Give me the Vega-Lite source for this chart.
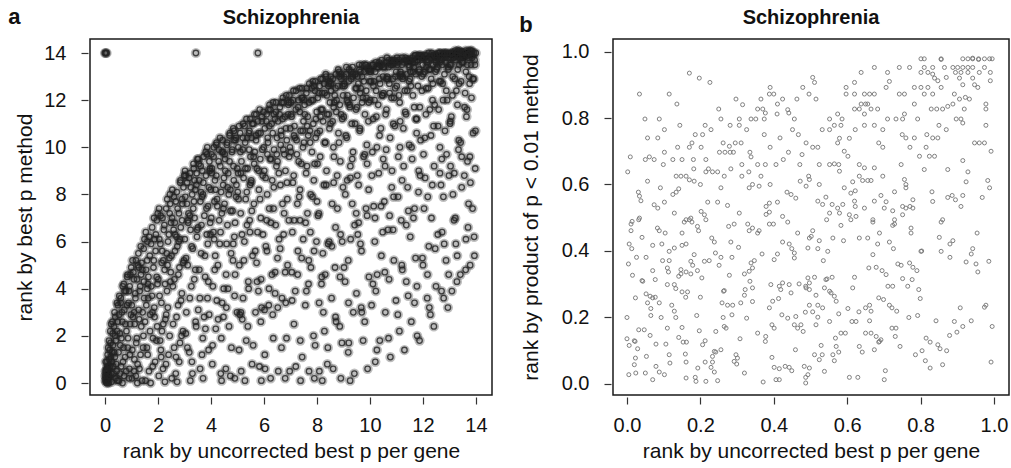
{
"$schema":"https://vega.github.io/schema/vega-lite/v6.json",
"padding":{"left":8,"top":6,"right":0,"bottom":0},
"config":{
"font":"Liberation Sans",
"view":{"stroke":"#1a1a1a","strokeWidth":1.5},
"axis":{"grid":false,"domain":false,"tickColor":"#333","tickWidth":1.2,"tickSize":7,"offset":2,"labelFontSize":20,"titleFontSize":21,"labelColor":"#111","titleColor":"#111","titleFontWeight":"normal","labelFlush":false,"labelOverlap":false},
"axisX":{"labelPadding":11,"titlePadding":5},
"axisY":{"labelPadding":15},
"title":{"fontSize":20,"fontWeight":"bold","color":"#111"},
"concat":{"spacing":26}
},
"datasets":{
"a":[
{"x":0.02,"y":0.1},{"x":0.05,"y":0.5},{"x":0.03,"y":0.9},{"x":0.08,"y":0.2},{"x":0.1,"y":1.2},{"x":0.12,"y":0.6},{"x":0.15,"y":1.8},{"x":0.17,"y":0.3},{"x":0.2,"y":2.2},{"x":0.22,"y":1.1},{"x":0.25,"y":0.05},{"x":0.28,"y":2.6},{"x":0.3,"y":1.6},{"x":0.33,"y":0.4},{"x":0.36,"y":3.0},{"x":0.38,"y":2.0},{"x":0.42,"y":0.8},{"x":0.45,"y":3.4},{"x":0.48,"y":2.6},{"x":0.47,"y":0.1},{"x":0.06,"y":0.0},{"x":0.14,"y":0.0},{"x":0.04,"y":0.3},{"x":0.09,"y":0.7},{"x":0.18,"y":1.4},{"x":0.26,"y":0.9},{"x":0.11,"y":0.05},{"x":0.35,"y":1.3},{"x":0.4,"y":0.2},
{"x":0.52,"y":0.1},{"x":0.8,"y":0.5},{"x":0.61,"y":0.7},{"x":0.94,"y":1.2},{"x":0.7,"y":1.5},{"x":0.87,"y":1.9},{"x":0.56,"y":2.1},{"x":0.77,"y":2.5},{"x":0.98,"y":2.9},{"x":0.64,"y":3.0},{"x":0.83,"y":3.3},{"x":0.59,"y":3.4},{"x":0.91,"y":3.9},{"x":0.74,"y":3.9},{"x":0.67,"y":4.1},{"x":0.96,"y":4.6},{"x":0.54,"y":3.7},{"x":0.85,"y":4.6},{"x":0.66,"y":0.0},{"x":0.9,"y":0.2},
{"x":1.02,"y":0.2},{"x":1.3,"y":0.6},{"x":1.11,"y":1.0},{"x":1.44,"y":1.5},{"x":1.2,"y":1.9},{"x":1.37,"y":2.4},{"x":1.06,"y":2.8},{"x":1.27,"y":3.1},{"x":1.48,"y":3.6},{"x":1.14,"y":3.8},{"x":1.33,"y":4.1},{"x":1.09,"y":4.4},{"x":1.41,"y":4.8},{"x":1.24,"y":5.0},{"x":1.17,"y":5.2},{"x":1.46,"y":5.7},{"x":1.04,"y":5.2},{"x":1.35,"y":5.8},{"x":1.22,"y":0.0},{"x":1.4,"y":0.1},
{"x":1.53,"y":0.1},{"x":1.8,"y":0.7},{"x":1.61,"y":1.2},{"x":1.94,"y":1.8},{"x":1.7,"y":2.2},{"x":1.87,"y":2.8},{"x":1.56,"y":3.3},{"x":1.77,"y":3.7},{"x":1.98,"y":4.2},{"x":1.64,"y":4.5},{"x":1.83,"y":4.9},{"x":1.59,"y":5.2},{"x":1.91,"y":5.6},{"x":1.74,"y":5.9},{"x":1.67,"y":6.2},{"x":1.96,"y":6.9},{"x":1.54,"y":6.4},{"x":1.85,"y":7.0},{"x":1.72,"y":0.0},
{"x":2.03,"y":0.3},{"x":2.3,"y":0.8},{"x":2.11,"y":1.4},{"x":2.44,"y":2.0},{"x":2.2,"y":2.5},{"x":2.37,"y":3.2},{"x":2.06,"y":3.7},{"x":2.27,"y":4.2},{"x":2.48,"y":4.7},{"x":2.14,"y":5.1},{"x":2.33,"y":5.5},{"x":2.09,"y":5.9},{"x":2.41,"y":6.3},{"x":2.24,"y":6.7},{"x":2.17,"y":7.0},{"x":2.46,"y":7.6},{"x":2.04,"y":7.4},{"x":2.35,"y":7.8},{"x":2.26,"y":0.05},
{"x":2.52,"y":0.2},{"x":2.8,"y":0.9},{"x":2.61,"y":1.5},{"x":2.94,"y":2.2},{"x":2.7,"y":2.8},{"x":2.87,"y":3.5},{"x":2.56,"y":4.1},{"x":2.77,"y":4.6},{"x":2.98,"y":5.2},{"x":2.64,"y":5.6},{"x":2.83,"y":6.1},{"x":2.59,"y":6.5},{"x":2.91,"y":6.9},{"x":2.74,"y":7.4},{"x":2.67,"y":7.7},{"x":2.96,"y":8.3},{"x":2.54,"y":8.2},{"x":2.85,"y":8.6},{"x":2.72,"y":0.05},
{"x":3.3,"y":0.4},{"x":3.11,"y":1.5},{"x":3.44,"y":2.4},{"x":3.2,"y":3.6},{"x":3.37,"y":4.4},{"x":3.06,"y":5.3},{"x":3.27,"y":5.8},{"x":3.48,"y":6.5},{"x":3.14,"y":6.8},{"x":3.33,"y":7.4},{"x":3.09,"y":7.6},{"x":3.41,"y":8.2},{"x":3.24,"y":8.3},{"x":3.17,"y":8.7},{"x":3.46,"y":8.9},{"x":3.04,"y":8.8},{"x":3.35,"y":9.1},{"x":3.02,"y":9.0},{"x":3.22,"y":0.1},
{"x":3.59,"y":0.6},{"x":3.91,"y":1.4},{"x":3.74,"y":2.8},{"x":3.87,"y":3.6},{"x":3.56,"y":4.8},{"x":3.77,"y":5.4},{"x":3.98,"y":6.3},{"x":3.64,"y":6.7},{"x":3.83,"y":7.4},{"x":3.6,"y":7.7},{"x":3.92,"y":8.3},{"x":3.71,"y":8.5},{"x":3.67,"y":9.0},{"x":3.96,"y":9.1},{"x":3.54,"y":9.3},{"x":3.85,"y":9.7},{"x":3.52,"y":9.5},{"x":3.8,"y":9.8},{"x":3.7,"y":0.2},
{"x":4.37,"y":0.4},{"x":4.06,"y":1.6},{"x":4.27,"y":2.7},{"x":4.48,"y":4.0},{"x":4.14,"y":4.8},{"x":4.33,"y":5.9},{"x":4.09,"y":6.4},{"x":4.41,"y":7.2},{"x":4.24,"y":7.5},{"x":4.17,"y":8.2},{"x":4.46,"y":8.4},{"x":4.04,"y":9.1},{"x":4.35,"y":9.2},{"x":4.02,"y":9.7},{"x":4.3,"y":9.9},{"x":4.11,"y":10.0},{"x":4.44,"y":10.3},{"x":4.2,"y":10.1},{"x":4.4,"y":0.1},
{"x":4.56,"y":0.6},{"x":4.77,"y":1.5},{"x":4.98,"y":3.0},{"x":4.64,"y":4.0},{"x":4.83,"y":5.2},{"x":4.59,"y":5.9},{"x":4.91,"y":6.8},{"x":4.74,"y":7.3},{"x":4.67,"y":8.0},{"x":4.96,"y":8.4},{"x":4.54,"y":9.0},{"x":4.85,"y":9.2},{"x":4.52,"y":9.7},{"x":4.8,"y":9.9},{"x":4.61,"y":10.2},{"x":4.94,"y":10.4},{"x":4.7,"y":10.5},{"x":4.87,"y":10.7},{"x":4.9,"y":0.2},
{"x":5.14,"y":0.5},{"x":5.33,"y":1.8},{"x":5.09,"y":2.9},{"x":5.41,"y":4.3},{"x":5.24,"y":5.2},{"x":5.17,"y":6.3},{"x":5.46,"y":6.9},{"x":5.04,"y":7.8},{"x":5.35,"y":8.1},{"x":5.02,"y":8.9},{"x":5.3,"y":9.1},{"x":5.11,"y":9.8},{"x":5.44,"y":9.9},{"x":5.2,"y":10.4},{"x":5.37,"y":10.4},{"x":5.06,"y":10.9},{"x":5.27,"y":10.9},{"x":5.48,"y":11.2},{"x":5.28,"y":0.1},
{"x":5.83,"y":0.7},{"x":5.59,"y":1.6},{"x":5.91,"y":3.2},{"x":5.74,"y":4.3},{"x":5.67,"y":5.6},{"x":5.96,"y":6.3},{"x":5.54,"y":7.3},{"x":5.85,"y":7.8},{"x":5.52,"y":8.6},{"x":5.8,"y":9.0},{"x":5.61,"y":9.6},{"x":5.94,"y":9.9},{"x":5.7,"y":10.5},{"x":5.87,"y":10.6},{"x":5.56,"y":11.0},{"x":5.77,"y":11.1},{"x":5.98,"y":11.5},{"x":5.64,"y":11.4},{"x":5.9,"y":0.1},
{"x":6.04,"y":0.6},{"x":6.35,"y":1.9},{"x":6.02,"y":3.1},{"x":6.3,"y":4.6},{"x":6.11,"y":5.6},{"x":6.44,"y":6.7},{"x":6.2,"y":7.4},{"x":6.37,"y":8.3},{"x":6.06,"y":8.7},{"x":6.27,"y":9.5},{"x":6.48,"y":9.7},{"x":6.14,"y":10.4},{"x":6.33,"y":10.6},{"x":6.09,"y":11.1},{"x":6.41,"y":11.2},{"x":6.24,"y":11.6},{"x":6.17,"y":11.6},{"x":6.46,"y":11.9},{"x":6.25,"y":0.2},
{"x":6.54,"y":0.5},{"x":6.85,"y":1.9},{"x":6.52,"y":3.2},{"x":6.8,"y":4.7},{"x":6.61,"y":5.7},{"x":6.94,"y":6.9},{"x":6.7,"y":7.6},{"x":6.87,"y":8.5},{"x":6.56,"y":8.9},{"x":6.77,"y":9.7},{"x":6.98,"y":10.0},{"x":6.64,"y":10.7},{"x":6.83,"y":10.8},{"x":6.59,"y":11.4},{"x":6.91,"y":11.4},{"x":6.74,"y":11.9},{"x":6.67,"y":11.9},{"x":6.96,"y":12.2},{"x":6.8,"y":0.2},
{"x":7.2,"y":0.7},{"x":7.37,"y":1.8},{"x":7.06,"y":3.5},{"x":7.27,"y":4.6},{"x":7.48,"y":6.1},{"x":7.14,"y":6.9},{"x":7.33,"y":7.9},{"x":7.09,"y":8.5},{"x":7.41,"y":9.3},{"x":7.24,"y":9.7},{"x":7.17,"y":10.4},{"x":7.46,"y":10.7},{"x":7.04,"y":11.3},{"x":7.35,"y":11.5},{"x":7.02,"y":11.9},{"x":7.3,"y":12.0},{"x":7.11,"y":12.4},{"x":7.44,"y":12.5},{"x":7.38,"y":0.1},
{"x":7.7,"y":0.5},{"x":7.87,"y":2.0},{"x":7.56,"y":3.3},{"x":7.77,"y":4.9},{"x":7.98,"y":6.0},{"x":7.64,"y":7.2},{"x":7.83,"y":7.9},{"x":7.59,"y":8.9},{"x":7.91,"y":9.3},{"x":7.74,"y":10.2},{"x":7.67,"y":10.5},{"x":7.96,"y":11.2},{"x":7.54,"y":11.4},{"x":7.85,"y":12.0},{"x":7.52,"y":12.0},{"x":7.8,"y":12.5},{"x":7.61,"y":12.5},{"x":7.94,"y":12.8},{"x":7.9,"y":0.2},
{"x":8.09,"y":0.5},{"x":8.41,"y":1.5},{"x":8.24,"y":3.0},{"x":8.17,"y":4.2},{"x":8.46,"y":6.0},{"x":8.04,"y":7.1},{"x":8.35,"y":8.4},{"x":8.02,"y":9.3},{"x":8.3,"y":10.2},{"x":8.11,"y":10.7},{"x":8.44,"y":11.4},{"x":8.2,"y":11.6},{"x":8.37,"y":12.2},{"x":8.06,"y":12.3},{"x":8.27,"y":12.7},{"x":8.48,"y":12.8},{"x":8.14,"y":12.9},{"x":8.33,"y":13.1},{"x":8.2,"y":0.1},
{"x":8.61,"y":0.6},{"x":8.94,"y":1.7},{"x":8.7,"y":2.8},{"x":8.87,"y":4.5},{"x":8.56,"y":5.8},{"x":8.77,"y":7.4},{"x":8.98,"y":8.3},{"x":8.64,"y":9.6},{"x":8.83,"y":10.2},{"x":8.59,"y":11.1},{"x":8.91,"y":11.4},{"x":8.74,"y":12.0},{"x":8.67,"y":12.2},{"x":8.96,"y":12.6},{"x":8.54,"y":12.7},{"x":8.85,"y":13.0},{"x":8.52,"y":13.0},{"x":8.8,"y":13.3},{"x":8.9,"y":0.2},
{"x":9.41,"y":0.4},{"x":9.2,"y":1.7},{"x":9.37,"y":3.0},{"x":9.06,"y":4.3},{"x":9.27,"y":6.1},{"x":9.48,"y":7.2},{"x":9.14,"y":8.6},{"x":9.33,"y":9.5},{"x":9.09,"y":10.5},{"x":9.44,"y":11.0},{"x":9.24,"y":11.7},{"x":9.17,"y":11.9},{"x":9.46,"y":12.5},{"x":9.04,"y":12.6},{"x":9.35,"y":13.0},{"x":9.02,"y":13.0},{"x":9.3,"y":13.2},{"x":9.11,"y":13.4},{"x":9.25,"y":0.1},
{"x":9.91,"y":0.6},{"x":9.74,"y":1.8},{"x":9.67,"y":3.2},{"x":9.96,"y":4.5},{"x":9.54,"y":6.3},{"x":9.85,"y":7.4},{"x":9.52,"y":8.8},{"x":9.8,"y":9.7},{"x":9.61,"y":10.7},{"x":9.94,"y":11.1},{"x":9.7,"y":11.9},{"x":9.87,"y":12.1},{"x":9.56,"y":12.7},{"x":9.77,"y":12.8},{"x":9.98,"y":13.2},{"x":9.64,"y":13.2},{"x":9.83,"y":13.5},{"x":9.59,"y":13.5},
{"x":10.2,"y":0.9},{"x":10.37,"y":1.8},{"x":10.06,"y":3.3},{"x":10.27,"y":4.6},{"x":10.48,"y":6.4},{"x":10.14,"y":7.5},{"x":10.33,"y":8.9},{"x":10.09,"y":9.8},{"x":10.41,"y":10.8},{"x":10.24,"y":11.3},{"x":10.17,"y":12.0},{"x":10.46,"y":12.2},{"x":10.04,"y":12.8},{"x":10.35,"y":12.9},{"x":10.02,"y":13.3},{"x":10.3,"y":13.4},{"x":10.11,"y":13.5},{"x":10.44,"y":13.7},
{"x":10.77,"y":1.1},{"x":10.7,"y":1.9},{"x":10.98,"y":3.5},{"x":10.56,"y":4.7},{"x":10.87,"y":6.5},{"x":10.54,"y":7.7},{"x":10.83,"y":9.0},{"x":10.61,"y":9.9},{"x":10.94,"y":10.9},{"x":10.59,"y":11.4},{"x":10.91,"y":12.1},{"x":10.74,"y":12.3},{"x":10.67,"y":12.9},{"x":10.96,"y":13.0},{"x":10.52,"y":13.4},{"x":10.85,"y":13.5},{"x":10.8,"y":13.6},{"x":10.64,"y":13.8},
{"x":11.3,"y":1.4},{"x":11.11,"y":2.2},{"x":11.44,"y":3.7},{"x":11.2,"y":5.0},{"x":11.37,"y":6.7},{"x":11.06,"y":7.9},{"x":11.27,"y":9.2},{"x":11.48,"y":10.1},{"x":11.14,"y":11.1},{"x":11.33,"y":11.5},{"x":11.09,"y":12.2},{"x":11.41,"y":12.4},{"x":11.24,"y":13.0},{"x":11.17,"y":13.1},{"x":11.46,"y":13.5},{"x":11.04,"y":13.6},{"x":11.35,"y":13.7},{"x":11.02,"y":13.8},
{"x":11.87,"y":1.8},{"x":11.56,"y":2.6},{"x":11.77,"y":4.1},{"x":11.98,"y":5.3},{"x":11.64,"y":7.0},{"x":11.83,"y":8.1},{"x":11.59,"y":9.5},{"x":11.91,"y":10.3},{"x":11.74,"y":11.2},{"x":11.67,"y":11.7},{"x":11.96,"y":12.4},{"x":11.54,"y":12.6},{"x":11.85,"y":13.2},{"x":11.52,"y":13.2},{"x":11.8,"y":13.7},{"x":11.61,"y":13.6},{"x":11.94,"y":13.9},{"x":11.7,"y":13.9},
{"x":12.41,"y":2.4},{"x":12.24,"y":3.2},{"x":12.17,"y":4.6},{"x":12.46,"y":5.7},{"x":12.04,"y":7.4},{"x":12.35,"y":8.4},{"x":12.02,"y":9.7},{"x":12.3,"y":10.5},{"x":12.11,"y":11.4},{"x":12.44,"y":11.8},{"x":12.2,"y":12.5},{"x":12.37,"y":12.7},{"x":12.06,"y":13.2},{"x":12.27,"y":13.3},{"x":12.48,"y":13.7},{"x":12.14,"y":13.7},{"x":12.33,"y":14.0},{"x":12.09,"y":13.9},
{"x":12.94,"y":3.2},{"x":12.7,"y":3.9},{"x":12.87,"y":5.2},{"x":12.56,"y":6.3},{"x":12.77,"y":7.9},{"x":12.98,"y":8.8},{"x":12.64,"y":10.0},{"x":12.83,"y":10.7},{"x":12.59,"y":11.6},{"x":12.91,"y":12.0},{"x":12.74,"y":12.7},{"x":12.67,"y":12.8},{"x":12.96,"y":13.3},{"x":12.54,"y":13.4},{"x":12.85,"y":13.8},{"x":12.52,"y":13.8},{"x":12.8,"y":14.0},{"x":12.61,"y":14.0},
{"x":13.09,"y":3.9},{"x":13.41,"y":4.6},{"x":13.24,"y":5.9},{"x":13.17,"y":6.9},{"x":13.46,"y":8.3},{"x":13.04,"y":9.2},{"x":13.35,"y":10.3},{"x":13.02,"y":11.0},{"x":13.3,"y":11.8},{"x":13.11,"y":12.2},{"x":13.44,"y":12.8},{"x":13.2,"y":12.9},{"x":13.37,"y":13.5},{"x":13.06,"y":13.5},{"x":13.27,"y":13.9},{"x":13.48,"y":13.8},{"x":13.14,"y":14.0},{"x":13.33,"y":14.1},
{"x":13.61,"y":4.8},{"x":13.94,"y":5.4},{"x":13.7,"y":6.6},{"x":13.87,"y":7.4},{"x":13.56,"y":8.8},{"x":13.77,"y":9.6},{"x":13.98,"y":10.7},{"x":13.64,"y":11.3},{"x":13.83,"y":12.1},{"x":13.59,"y":12.3},{"x":13.91,"y":12.9},{"x":13.74,"y":13.0},{"x":13.67,"y":13.5},{"x":13.96,"y":13.5},{"x":13.54,"y":13.9},{"x":13.85,"y":13.8},{"x":13.52,"y":14.0},{"x":13.8,"y":14.1},
{"x":0.0,"y":14.0},{"x":0.03,"y":14.0},{"x":0.06,"y":14.0},{"x":3.43,"y":14.0},{"x":5.77,"y":14.0},
{"x":0.01,"y":0.3},{"x":0.04,"y":0.1},{"x":0.07,"y":0.6},{"x":0.13,"y":0.3},{"x":0.16,"y":1.0},{"x":0.19,"y":0.7},{"x":0.21,"y":1.7},{"x":0.24,"y":0.4},{"x":0.27,"y":1.3},{"x":0.29,"y":2.1},{"x":0.31,"y":0.7},{"x":0.34,"y":2.4},{"x":0.37,"y":1.1},{"x":0.39,"y":2.8},{"x":0.41,"y":1.8},{"x":0.44,"y":0.5},{"x":0.46,"y":2.2},{"x":0.49,"y":3.3},{"x":0.12,"y":1.5},{"x":0.23,"y":2.5},{"x":0.02,"y":0.5},{"x":0.08,"y":0.9},
{"x":0.51,"y":1.3},{"x":0.53,"y":2.9},{"x":0.57,"y":0.4},{"x":0.6,"y":3.6},{"x":0.62,"y":1.9},{"x":0.65,"y":2.6},{"x":0.68,"y":0.9},{"x":0.71,"y":4.2},{"x":0.73,"y":3.1},{"x":0.76,"y":1.1},{"x":0.79,"y":3.9},{"x":0.81,"y":2.2},{"x":0.84,"y":4.5},{"x":0.86,"y":1.5},{"x":0.89,"y":3.4},{"x":0.92,"y":0.6},{"x":0.95,"y":2.5},{"x":0.99,"y":4.9},{"x":0.58,"y":1.6},{"x":0.72,"y":0.3},
{"x":1.01,"y":3.3},{"x":1.03,"y":1.4},{"x":1.07,"y":4.7},{"x":1.1,"y":0.5},{"x":1.12,"y":2.5},{"x":1.15,"y":3.6},{"x":1.18,"y":1.7},{"x":1.21,"y":4.4},{"x":1.23,"y":0.8},{"x":1.26,"y":5.5},{"x":1.29,"y":2.7},{"x":1.31,"y":3.9},{"x":1.34,"y":1.2},{"x":1.38,"y":5.1},{"x":1.42,"y":3.0},{"x":1.45,"y":2.0},{"x":1.47,"y":4.3},{"x":1.49,"y":6.1},{"x":1.16,"y":0.3},{"x":1.36,"y":4.6},
{"x":1.51,"y":2.6},{"x":1.55,"y":4.8},{"x":1.58,"y":1.5},{"x":1.6,"y":6.0},{"x":1.63,"y":3.6},{"x":1.66,"y":0.5},{"x":1.69,"y":5.4},{"x":1.71,"y":2.9},{"x":1.75,"y":4.1},{"x":1.78,"y":6.6},{"x":1.81,"y":1.9},{"x":1.84,"y":5.2},{"x":1.86,"y":3.2},{"x":1.89,"y":0.9},{"x":1.92,"y":6.3},{"x":1.95,"y":4.5},{"x":1.97,"y":2.4},{"x":1.99,"y":7.2},{"x":1.62,"y":4.2},{"x":1.79,"y":3.0},
{"x":2.01,"y":4.4},{"x":2.05,"y":6.1},{"x":2.08,"y":1.8},{"x":2.1,"y":7.1},{"x":2.13,"y":3.4},{"x":2.16,"y":5.6},{"x":2.19,"y":0.6},{"x":2.22,"y":6.5},{"x":2.25,"y":4.8},{"x":2.28,"y":2.7},{"x":2.31,"y":7.4},{"x":2.34,"y":3.9},{"x":2.38,"y":6.0},{"x":2.4,"y":1.2},{"x":2.43,"y":5.3},{"x":2.45,"y":8.0},{"x":2.47,"y":4.3},{"x":2.49,"y":6.8},{"x":2.15,"y":2.2},{"x":2.36,"y":5.0},
{"x":2.51,"y":5.4},{"x":2.53,"y":7.0},{"x":2.57,"y":2.5},{"x":2.6,"y":7.9},{"x":2.62,"y":4.4},{"x":2.65,"y":6.3},{"x":2.68,"y":1.1},{"x":2.71,"y":8.1},{"x":2.73,"y":5.8},{"x":2.76,"y":3.3},{"x":2.79,"y":7.2},{"x":2.81,"y":4.9},{"x":2.84,"y":8.5},{"x":2.86,"y":6.6},{"x":2.89,"y":2.0},{"x":2.92,"y":7.6},{"x":2.95,"y":5.1},{"x":2.99,"y":8.8},{"x":2.63,"y":6.8},{"x":2.78,"y":6.0},
{"x":3.01,"y":6.1},{"x":3.03,"y":7.9},{"x":3.07,"y":3.0},{"x":3.1,"y":8.5},{"x":3.12,"y":5.0},{"x":3.15,"y":7.2},{"x":3.18,"y":1.3},{"x":3.21,"y":8.9},{"x":3.23,"y":6.5},{"x":3.26,"y":4.1},{"x":3.29,"y":8.0},{"x":3.31,"y":5.7},{"x":3.34,"y":9.3},{"x":3.38,"y":7.0},{"x":3.42,"y":2.6},{"x":3.45,"y":8.4},{"x":3.47,"y":6.2},{"x":3.49,"y":9.5},{"x":3.13,"y":6.9},{"x":3.36,"y":7.7},
{"x":3.51,"y":6.6},{"x":3.55,"y":8.6},{"x":3.58,"y":3.6},{"x":3.61,"y":9.2},{"x":3.63,"y":5.5},{"x":3.66,"y":7.9},{"x":3.69,"y":1.9},{"x":3.72,"y":9.6},{"x":3.75,"y":7.1},{"x":3.78,"y":4.5},{"x":3.81,"y":8.8},{"x":3.84,"y":6.3},{"x":3.86,"y":10.0},{"x":3.89,"y":7.5},{"x":3.93,"y":2.9},{"x":3.95,"y":9.0},{"x":3.97,"y":6.8},{"x":3.99,"y":8.2},{"x":3.62,"y":8.1},{"x":3.88,"y":5.9},
{"x":4.01,"y":7.0},{"x":4.03,"y":8.9},{"x":4.07,"y":4.1},{"x":4.1,"y":9.6},{"x":4.12,"y":6.1},{"x":4.15,"y":8.6},{"x":4.18,"y":2.3},{"x":4.21,"y":10.2},{"x":4.23,"y":7.8},{"x":4.26,"y":5.0},{"x":4.29,"y":9.4},{"x":4.31,"y":6.9},{"x":4.34,"y":10.4},{"x":4.38,"y":8.1},{"x":4.42,"y":3.4},{"x":4.45,"y":9.8},{"x":4.47,"y":7.4},{"x":4.49,"y":8.7},{"x":4.13,"y":7.7},{"x":4.36,"y":6.4},
{"x":4.51,"y":7.6},{"x":4.53,"y":9.5},{"x":4.57,"y":4.6},{"x":4.6,"y":10.1},{"x":4.62,"y":6.7},{"x":4.65,"y":8.9},{"x":4.68,"y":2.4},{"x":4.71,"y":10.6},{"x":4.73,"y":8.2},{"x":4.76,"y":5.5},{"x":4.79,"y":9.8},{"x":4.81,"y":7.3},{"x":4.84,"y":10.8},{"x":4.86,"y":8.6},{"x":4.89,"y":3.7},{"x":4.92,"y":10.3},{"x":4.95,"y":7.9},{"x":4.99,"y":9.1},{"x":4.63,"y":8.3},{"x":4.88,"y":6.2},
{"x":5.01,"y":8.1},{"x":5.03,"y":10.0},{"x":5.07,"y":5.0},{"x":5.1,"y":10.6},{"x":5.12,"y":7.2},{"x":5.15,"y":9.4},{"x":5.18,"y":2.7},{"x":5.21,"y":11.0},{"x":5.23,"y":8.7},{"x":5.26,"y":6.0},{"x":5.29,"y":10.2},{"x":5.31,"y":7.8},{"x":5.34,"y":11.2},{"x":5.38,"y":9.1},{"x":5.42,"y":4.0},{"x":5.45,"y":10.7},{"x":5.47,"y":8.4},{"x":5.49,"y":9.6},{"x":5.13,"y":8.9},{"x":5.36,"y":6.7},
{"x":5.51,"y":8.5},{"x":5.53,"y":10.4},{"x":5.57,"y":5.4},{"x":5.6,"y":11.0},{"x":5.62,"y":7.6},{"x":5.65,"y":9.8},{"x":5.68,"y":3.0},{"x":5.71,"y":11.4},{"x":5.73,"y":9.1},{"x":5.76,"y":6.4},{"x":5.79,"y":10.6},{"x":5.81,"y":8.2},{"x":5.84,"y":11.6},{"x":5.86,"y":9.5},{"x":5.89,"y":4.4},{"x":5.92,"y":11.1},{"x":5.95,"y":8.8},{"x":5.99,"y":10.0},{"x":5.63,"y":9.3},{"x":5.88,"y":7.0},
{"x":6.01,"y":9.0},{"x":6.03,"y":10.8},{"x":6.07,"y":5.8},{"x":6.1,"y":11.4},{"x":6.12,"y":8.0},{"x":6.15,"y":10.2},{"x":6.18,"y":3.3},{"x":6.21,"y":11.8},{"x":6.23,"y":9.5},{"x":6.26,"y":6.8},{"x":6.29,"y":11.0},{"x":6.31,"y":8.6},{"x":6.34,"y":11.9},{"x":6.38,"y":9.9},{"x":6.42,"y":4.7},{"x":6.45,"y":11.5},{"x":6.47,"y":9.2},{"x":6.49,"y":10.4},{"x":6.13,"y":9.7},{"x":6.36,"y":7.4},
{"x":6.51,"y":9.4},{"x":6.53,"y":11.1},{"x":6.57,"y":6.1},{"x":6.6,"y":11.7},{"x":6.62,"y":8.4},{"x":6.65,"y":10.5},{"x":6.68,"y":3.6},{"x":6.71,"y":12.1},{"x":6.73,"y":9.9},{"x":6.76,"y":7.2},{"x":6.79,"y":11.3},{"x":6.81,"y":9.0},{"x":6.84,"y":12.2},{"x":6.86,"y":10.3},{"x":6.89,"y":5.0},{"x":6.92,"y":11.8},{"x":6.95,"y":9.6},{"x":6.99,"y":10.8},{"x":6.63,"y":10.1},{"x":6.88,"y":7.8},
{"x":7.01,"y":9.8},{"x":7.03,"y":11.4},{"x":7.07,"y":6.4},{"x":7.1,"y":12.0},{"x":7.12,"y":8.8},{"x":7.15,"y":10.9},{"x":7.18,"y":3.9},{"x":7.21,"y":12.4},{"x":7.23,"y":10.3},{"x":7.26,"y":7.6},{"x":7.29,"y":11.7},{"x":7.31,"y":9.4},{"x":7.34,"y":12.5},{"x":7.38,"y":10.7},{"x":7.42,"y":5.3},{"x":7.45,"y":12.1},{"x":7.47,"y":10.0},{"x":7.49,"y":11.1},{"x":7.13,"y":10.5},{"x":7.36,"y":8.2},
{"x":7.51,"y":10.2},{"x":7.53,"y":11.8},{"x":7.57,"y":6.8},{"x":7.6,"y":12.3},{"x":7.62,"y":9.2},{"x":7.65,"y":11.3},{"x":7.68,"y":4.2},{"x":7.71,"y":12.7},{"x":7.73,"y":10.7},{"x":7.76,"y":8.0},{"x":7.79,"y":12.0},{"x":7.81,"y":9.8},{"x":7.84,"y":12.8},{"x":7.86,"y":11.0},{"x":7.89,"y":5.6},{"x":7.92,"y":12.4},{"x":7.95,"y":10.4},{"x":7.99,"y":11.5},{"x":7.63,"y":10.9},{"x":7.88,"y":8.6},
{"x":8.01,"y":10.6},{"x":8.03,"y":12.1},{"x":8.07,"y":7.2},{"x":8.1,"y":12.6},{"x":8.12,"y":9.6},{"x":8.15,"y":11.6},{"x":8.18,"y":4.5},{"x":8.21,"y":12.9},{"x":8.23,"y":11.1},{"x":8.26,"y":8.4},{"x":8.29,"y":12.3},{"x":8.31,"y":10.2},{"x":8.34,"y":13.0},{"x":8.38,"y":11.4},{"x":8.42,"y":5.9},{"x":8.45,"y":12.7},{"x":8.47,"y":10.8},{"x":8.49,"y":11.9},{"x":8.13,"y":11.3},{"x":8.36,"y":9.0},{"x":8.28,"y":2.2},
{"x":8.51,"y":11.0},{"x":8.53,"y":12.4},{"x":8.57,"y":7.6},{"x":8.6,"y":12.9},{"x":8.62,"y":10.0},{"x":8.65,"y":11.9},{"x":8.68,"y":4.9},{"x":8.71,"y":13.1},{"x":8.73,"y":11.5},{"x":8.76,"y":8.8},{"x":8.79,"y":12.6},{"x":8.81,"y":10.6},{"x":8.84,"y":13.2},{"x":8.86,"y":11.8},{"x":8.89,"y":6.3},{"x":8.92,"y":12.9},{"x":8.95,"y":11.2},{"x":8.99,"y":12.2},{"x":8.63,"y":11.7},{"x":8.88,"y":9.4},{"x":8.72,"y":2.6},
{"x":9.01,"y":11.3},{"x":9.03,"y":12.7},{"x":9.07,"y":8.0},{"x":9.1,"y":13.1},{"x":9.12,"y":10.4},{"x":9.15,"y":12.2},{"x":9.18,"y":5.2},{"x":9.21,"y":13.3},{"x":9.23,"y":11.8},{"x":9.26,"y":9.2},{"x":9.29,"y":12.9},{"x":9.31,"y":11.0},{"x":9.34,"y":13.4},{"x":9.38,"y":12.1},{"x":9.42,"y":6.7},{"x":9.45,"y":13.1},{"x":9.47,"y":11.6},{"x":9.49,"y":12.5},{"x":9.13,"y":12.0},{"x":9.36,"y":9.8},{"x":9.19,"y":3.4},
{"x":9.51,"y":11.7},{"x":9.53,"y":13.0},{"x":9.57,"y":8.4},{"x":9.6,"y":13.3},{"x":9.62,"y":10.8},{"x":9.65,"y":12.5},{"x":9.68,"y":5.6},{"x":9.71,"y":13.5},{"x":9.73,"y":12.1},{"x":9.76,"y":9.6},{"x":9.79,"y":13.2},{"x":9.81,"y":11.4},{"x":9.84,"y":13.5},{"x":9.86,"y":12.4},{"x":9.89,"y":7.1},{"x":9.92,"y":13.3},{"x":9.95,"y":11.9},{"x":9.99,"y":12.8},{"x":9.63,"y":12.3},{"x":9.88,"y":10.1},{"x":9.69,"y":3.0},
{"x":10.01,"y":12.0},{"x":10.03,"y":13.2},{"x":10.07,"y":8.8},{"x":10.1,"y":13.5},{"x":10.12,"y":11.2},{"x":10.15,"y":12.8},{"x":10.18,"y":6.0},{"x":10.21,"y":13.6},{"x":10.23,"y":12.4},{"x":10.26,"y":10.0},{"x":10.29,"y":13.4},{"x":10.31,"y":11.8},{"x":10.34,"y":13.6},{"x":10.38,"y":12.7},{"x":10.42,"y":7.5},{"x":10.45,"y":13.5},{"x":10.47,"y":12.2},{"x":10.49,"y":13.0},{"x":10.13,"y":12.6},{"x":10.36,"y":10.5},{"x":10.22,"y":3.9},
{"x":10.51,"y":12.3},{"x":10.53,"y":13.4},{"x":10.57,"y":9.2},{"x":10.6,"y":13.6},{"x":10.62,"y":11.6},{"x":10.65,"y":13.0},{"x":10.68,"y":6.5},{"x":10.71,"y":13.7},{"x":10.73,"y":12.7},{"x":10.76,"y":10.4},{"x":10.79,"y":13.5},{"x":10.81,"y":12.1},{"x":10.84,"y":13.7},{"x":10.86,"y":12.9},{"x":10.89,"y":7.9},{"x":10.92,"y":13.6},{"x":10.95,"y":12.5},{"x":10.99,"y":13.2},{"x":10.63,"y":12.9},{"x":10.88,"y":11.0},{"x":10.72,"y":4.4},
{"x":11.01,"y":12.6},{"x":11.03,"y":13.5},{"x":11.07,"y":9.6},{"x":11.1,"y":13.7},{"x":11.12,"y":11.9},{"x":11.15,"y":13.2},{"x":11.18,"y":6.9},{"x":11.21,"y":13.8},{"x":11.23,"y":12.9},{"x":11.26,"y":10.8},{"x":11.29,"y":13.6},{"x":11.31,"y":12.4},{"x":11.34,"y":13.8},{"x":11.38,"y":13.1},{"x":11.42,"y":8.3},{"x":11.45,"y":13.7},{"x":11.47,"y":12.8},{"x":11.49,"y":13.4},{"x":11.13,"y":13.0},{"x":11.36,"y":11.4},{"x":11.22,"y":4.8},
{"x":11.51,"y":12.9},{"x":11.53,"y":13.7},{"x":11.57,"y":10.0},{"x":11.6,"y":13.8},{"x":11.62,"y":12.2},{"x":11.65,"y":13.4},{"x":11.68,"y":7.4},{"x":11.71,"y":13.9},{"x":11.73,"y":13.1},{"x":11.76,"y":11.2},{"x":11.79,"y":13.7},{"x":11.81,"y":12.6},{"x":11.84,"y":13.9},{"x":11.86,"y":13.3},{"x":11.89,"y":8.8},{"x":11.92,"y":13.8},{"x":11.95,"y":13.0},{"x":11.99,"y":13.5},{"x":11.63,"y":13.2},{"x":11.88,"y":11.7},{"x":11.72,"y":5.3},{"x":11.78,"y":2.0},
{"x":12.01,"y":13.1},{"x":12.03,"y":13.8},{"x":12.07,"y":10.4},{"x":12.1,"y":13.9},{"x":12.12,"y":12.5},{"x":12.15,"y":13.6},{"x":12.18,"y":7.9},{"x":12.21,"y":14.0},{"x":12.23,"y":13.3},{"x":12.26,"y":11.6},{"x":12.29,"y":13.8},{"x":12.31,"y":12.9},{"x":12.34,"y":13.9},{"x":12.38,"y":13.5},{"x":12.42,"y":9.2},{"x":12.45,"y":13.9},{"x":12.47,"y":13.2},{"x":12.49,"y":13.6},{"x":12.13,"y":13.4},{"x":12.36,"y":12.0},{"x":12.22,"y":5.8},{"x":12.28,"y":2.9},
{"x":12.51,"y":13.3},{"x":12.53,"y":13.9},{"x":12.57,"y":10.9},{"x":12.6,"y":14.0},{"x":12.62,"y":12.8},{"x":12.65,"y":13.7},{"x":12.68,"y":8.4},{"x":12.71,"y":14.0},{"x":12.73,"y":13.5},{"x":12.76,"y":12.0},{"x":12.79,"y":13.9},{"x":12.81,"y":13.1},{"x":12.84,"y":14.0},{"x":12.86,"y":13.6},{"x":12.89,"y":9.7},{"x":12.92,"y":13.9},{"x":12.95,"y":13.4},{"x":12.99,"y":13.8},{"x":12.63,"y":13.6},{"x":12.88,"y":12.4},{"x":12.72,"y":6.4},{"x":12.78,"y":3.6},
{"x":13.01,"y":13.5},{"x":13.03,"y":14.0},{"x":13.07,"y":11.3},{"x":13.1,"y":14.0},{"x":13.12,"y":13.0},{"x":13.15,"y":13.8},{"x":13.18,"y":8.9},{"x":13.21,"y":14.1},{"x":13.23,"y":13.7},{"x":13.26,"y":12.4},{"x":13.29,"y":14.0},{"x":13.31,"y":13.3},{"x":13.34,"y":14.1},{"x":13.38,"y":13.8},{"x":13.42,"y":10.2},{"x":13.45,"y":14.0},{"x":13.47,"y":13.6},{"x":13.49,"y":13.9},{"x":13.13,"y":13.8},{"x":13.36,"y":12.7},{"x":13.22,"y":7.0},{"x":13.28,"y":4.3},
{"x":13.51,"y":13.6},{"x":13.53,"y":14.0},{"x":13.57,"y":11.7},{"x":13.6,"y":14.1},{"x":13.62,"y":13.2},{"x":13.65,"y":13.9},{"x":13.68,"y":9.4},{"x":13.71,"y":14.1},{"x":13.73,"y":13.8},{"x":13.76,"y":12.7},{"x":13.79,"y":14.0},{"x":13.81,"y":13.5},{"x":13.84,"y":14.1},{"x":13.86,"y":13.9},{"x":13.89,"y":10.6},{"x":13.92,"y":14.0},{"x":13.95,"y":13.7},{"x":13.99,"y":14.0},{"x":13.63,"y":13.9},{"x":13.88,"y":12.9},{"x":13.72,"y":7.6},{"x":13.78,"y":5.0},
{"x":2.12,"y":1.1},{"x":2.67,"y":0.4},{"x":2.9,"y":3.8},{"x":3.05,"y":2.1},{"x":3.28,"y":0.9},{"x":3.52,"y":3.1},{"x":3.66,"y":1.2},{"x":3.9,"y":4.3},{"x":4.05,"y":0.8},{"x":4.22,"y":3.5},{"x":4.39,"y":1.9},{"x":4.58,"y":3.2},{"x":4.73,"y":0.3},{"x":4.91,"y":4.6},{"x":5.06,"y":1.4},{"x":5.21,"y":3.6},{"x":5.39,"y":2.4},{"x":5.55,"y":0.8},{"x":5.72,"y":5.1},{"x":5.88,"y":2.6},{"x":6.03,"y":1.2},{"x":6.19,"y":4.0},{"x":6.33,"y":2.9},{"x":6.51,"y":5.3},{"x":6.66,"y":1.5},{"x":6.82,"y":3.4},{"x":6.97,"y":0.5},{"x":7.13,"y":2.5},{"x":7.28,"y":5.6},{"x":7.44,"y":1.1},{"x":7.6,"y":3.9},{"x":7.75,"y":6.4},{"x":7.93,"y":1.6},{"x":8.08,"y":3.4},{"x":8.22,"y":5.5},{"x":8.39,"y":0.8},{"x":8.55,"y":3.6},{"x":8.7,"y":6.6},{"x":8.86,"y":2.4},{"x":9.02,"y":4.9},{"x":9.18,"y":1.3},{"x":9.33,"y":7.6},{"x":9.49,"y":3.8},{"x":9.64,"y":5.9},{"x":9.8,"y":2.6},{"x":9.95,"y":8.2},{"x":10.11,"y":4.2},{"x":10.26,"y":1.4},{"x":10.43,"y":5.4},{"x":10.58,"y":3.0},{"x":10.74,"y":7.1},{"x":10.9,"y":5.2},{"x":11.05,"y":2.9},{"x":11.21,"y":8.6},{"x":11.37,"y":4.3},{"x":11.52,"y":6.2},{"x":11.68,"y":3.4},{"x":11.84,"y":9.0},{"x":12.0,"y":5.0},{"x":12.16,"y":3.6},{"x":12.32,"y":7.0},{"x":12.49,"y":4.1},{"x":12.64,"y":8.9},{"x":12.8,"y":5.9},{"x":12.97,"y":4.6},{"x":13.13,"y":8.0},{"x":13.29,"y":5.4},{"x":13.46,"y":9.6},{"x":13.62,"y":6.1},{"x":13.79,"y":8.5},{"x":13.93,"y":6.2},
{"x":2.31,"y":2.9},{"x":2.83,"y":1.7},{"x":3.41,"y":4.8},{"x":3.79,"y":2.3},{"x":4.16,"y":5.4},{"x":4.47,"y":2.8},{"x":4.84,"y":5.9},{"x":5.13,"y":3.0},{"x":5.47,"y":6.4},{"x":5.79,"y":3.9},{"x":6.1,"y":6.9},{"x":6.42,"y":3.8},{"x":6.74,"y":6.3},{"x":7.05,"y":4.7},{"x":7.36,"y":6.9},{"x":7.69,"y":5.2},{"x":8.0,"y":7.7},{"x":8.31,"y":4.6},{"x":8.63,"y":8.5},{"x":8.95,"y":6.0},{"x":9.26,"y":8.7},{"x":9.57,"y":6.8},{"x":9.89,"y":9.3},{"x":10.19,"y":7.0},{"x":10.5,"y":9.5},{"x":10.82,"y":8.3},{"x":11.13,"y":10.0},{"x":11.45,"y":7.3},{"x":11.76,"y":10.6},{"x":12.08,"y":8.7},{"x":12.4,"y":10.9},{"x":12.71,"y":9.5},{"x":13.03,"y":11.1},{"x":13.34,"y":9.9},{"x":13.66,"y":11.6},{"x":13.97,"y":9.1},
{"x":1.1,"y":3.0},{"x":1.6,"y":4.0},{"x":2.2,"y":5.2},{"x":2.7,"y":6.2},{"x":3.2,"y":7.1},{"x":3.7,"y":8.0},{"x":4.2,"y":8.8},{"x":4.7,"y":9.4},{"x":5.2,"y":9.9},{"x":5.7,"y":10.3},{"x":6.2,"y":10.9},{"x":6.7,"y":11.2},{"x":7.2,"y":11.6},{"x":7.7,"y":11.9},{"x":8.2,"y":12.3},{"x":8.7,"y":12.5},{"x":9.2,"y":12.8},{"x":9.7,"y":13.0},{"x":10.2,"y":13.2},{"x":10.7,"y":13.4},{"x":11.2,"y":13.5},{"x":11.7,"y":13.6},{"x":12.2,"y":13.7},{"x":12.7,"y":13.8},{"x":13.2,"y":13.9},{"x":13.7,"y":13.95},
{"x":0.93,"y":4.1},{"x":1.28,"y":4.9},{"x":1.87,"y":6.1},{"x":2.44,"y":7.2},{"x":2.91,"y":7.8},{"x":3.38,"y":8.6},{"x":3.94,"y":9.4},{"x":4.41,"y":9.8},{"x":4.86,"y":10.3},{"x":5.43,"y":10.6},{"x":5.92,"y":11.3},{"x":6.37,"y":11.4},{"x":6.94,"y":11.9},{"x":7.42,"y":12.1},{"x":7.88,"y":12.6},{"x":8.43,"y":12.6},{"x":8.92,"y":13.1},{"x":9.36,"y":13.1},{"x":9.94,"y":13.4},{"x":10.38,"y":13.5},{"x":10.93,"y":13.7},{"x":11.42,"y":13.7},{"x":11.87,"y":13.9},{"x":12.44,"y":13.9},{"x":12.91,"y":14.0},{"x":13.42,"y":14.05}
],
"b":[
{"x":0.17,"y":0.935},{"x":0.197,"y":0.92},{"x":0.226,"y":0.907},{"x":0.034,"y":0.872},{"x":0.115,"y":0.872},{"x":0.136,"y":0.842},{"x":0.39,"y":0.892},{"x":0.388,"y":0.872},{"x":0.40,"y":0.872},{"x":0.365,"y":0.857},{"x":0.297,"y":0.857},{"x":0.315,"y":0.84},{"x":0.424,"y":0.857},{"x":0.463,"y":0.857},{"x":0.479,"y":0.892},{"x":0.496,"y":0.872},{"x":0.41,"y":0.842},{"x":0.438,"y":0.825},{"x":0.441,"y":0.815},{"x":0.25,"y":0.827},{"x":0.356,"y":0.827},{"x":0.37,"y":0.827},{"x":0.377,"y":0.815},{"x":0.409,"y":0.812},{"x":0.049,"y":0.797},{"x":0.088,"y":0.797},{"x":0.256,"y":0.797},{"x":0.281,"y":0.778},{"x":0.306,"y":0.778},{"x":0.306,"y":0.797},{"x":0.338,"y":0.797},{"x":0.351,"y":0.797},{"x":0.374,"y":0.797},{"x":0.456,"y":0.797},{"x":0.144,"y":0.778},{"x":0.213,"y":0.778},{"x":0.102,"y":0.765},{"x":0.229,"y":0.765},{"x":0.326,"y":0.765},{"x":0.451,"y":0.765},{"x":0.467,"y":0.75},{"x":0.186,"y":0.75},{"x":0.206,"y":0.75},{"x":0.374,"y":0.75},{"x":0.056,"y":0.74},{"x":0.084,"y":0.74},{"x":0.417,"y":0.74},{"x":0.488,"y":0.725},{"x":0.177,"y":0.725},{"x":0.262,"y":0.725},{"x":0.279,"y":0.715},{"x":0.295,"y":0.725},{"x":0.311,"y":0.725},{"x":0.138,"y":0.712},{"x":0.17,"y":0.712},{"x":0.202,"y":0.712},{"x":0.39,"y":0.712},{"x":0.102,"y":0.697},{"x":0.252,"y":0.697},{"x":0.267,"y":0.697},{"x":0.281,"y":0.697},{"x":0.29,"y":0.697},{"x":0.335,"y":0.697},{"x":0.44,"y":0.697},{"x":0.477,"y":0.69},{"x":0.009,"y":0.683},{"x":0.05,"y":0.675},{"x":0.061,"y":0.683},{"x":0.074,"y":0.675},{"x":0.099,"y":0.66},{"x":0.125,"y":0.675},{"x":0.15,"y":0.675},{"x":0.181,"y":0.675},{"x":0.215,"y":0.675},{"x":0.338,"y":0.683},{"x":0.426,"y":0.675},{"x":0.406,"y":0.66},{"x":0.002,"y":0.638},{"x":0.056,"y":0.61},{"x":0.222,"y":0.647},{"x":0.233,"y":0.638},{"x":0.247,"y":0.638},{"x":0.215,"y":0.638},{"x":0.182,"y":0.647},{"x":0.283,"y":0.647},{"x":0.313,"y":0.66},{"x":0.356,"y":0.66},{"x":0.377,"y":0.66},{"x":0.471,"y":0.66},{"x":0.134,"y":0.625},{"x":0.147,"y":0.625},{"x":0.161,"y":0.625},{"x":0.17,"y":0.614},{"x":0.183,"y":0.61},{"x":0.2,"y":0.6},{"x":0.265,"y":0.625},{"x":0.313,"y":0.625},{"x":0.332,"y":0.638},{"x":0.365,"y":0.625},{"x":0.342,"y":0.6},{"x":0.333,"y":0.59},{"x":0.36,"y":0.595},{"x":0.39,"y":0.6},{"x":0.495,"y":0.625},{"x":0.472,"y":0.61},{"x":0.488,"y":0.595},{"x":0.091,"y":0.59},{"x":0.256,"y":0.59},{"x":0.031,"y":0.577},{"x":0.034,"y":0.565},{"x":0.038,"y":0.551},{"x":0.125,"y":0.57},{"x":0.134,"y":0.577},{"x":0.141,"y":0.587},{"x":0.436,"y":0.577},{"x":0.447,"y":0.57},{"x":0.46,"y":0.559},{"x":0.074,"y":0.539},{"x":0.084,"y":0.529},{"x":0.102,"y":0.547},{"x":0.22,"y":0.547},{"x":0.247,"y":0.547},{"x":0.274,"y":0.537},{"x":0.379,"y":0.534},{"x":0.388,"y":0.544},{"x":0.41,"y":0.547},{"x":0.129,"y":0.514},{"x":0.202,"y":0.519},{"x":0.211,"y":0.509},{"x":0.306,"y":0.514},{"x":0.388,"y":0.517},{"x":0.379,"y":0.51},{"x":0.034,"y":0.499},{"x":0.014,"y":0.489},{"x":0.161,"y":0.494},{"x":0.174,"y":0.499},{"x":0.424,"y":0.504},
{"x":0.801,"y":0.978},{"x":0.81,"y":0.978},{"x":0.856,"y":0.978},{"x":0.856,"y":0.976},{"x":0.915,"y":0.978},{"x":0.929,"y":0.978},{"x":0.942,"y":0.978},{"x":0.942,"y":0.98},{"x":0.958,"y":0.978},{"x":0.958,"y":0.976},{"x":0.974,"y":0.978},{"x":0.988,"y":0.978},{"x":0.995,"y":0.978},
{"x":0.674,"y":0.952},{"x":0.742,"y":0.952},{"x":0.77,"y":0.952},{"x":0.81,"y":0.952},{"x":0.833,"y":0.952},{"x":0.865,"y":0.952},{"x":0.888,"y":0.952},{"x":0.901,"y":0.952},{"x":0.915,"y":0.952},{"x":0.929,"y":0.952},{"x":0.942,"y":0.952},{"x":0.974,"y":0.952},
{"x":0.638,"y":0.937},{"x":0.71,"y":0.937},{"x":0.801,"y":0.937},{"x":0.82,"y":0.937},{"x":0.833,"y":0.932},{"x":0.895,"y":0.937},{"x":0.91,"y":0.937},{"x":0.929,"y":0.937},{"x":0.96,"y":0.937},{"x":0.99,"y":0.937},
{"x":0.506,"y":0.922},{"x":0.511,"y":0.907},{"x":0.62,"y":0.907},{"x":0.597,"y":0.892},{"x":0.715,"y":0.91},{"x":0.706,"y":0.892},{"x":0.838,"y":0.92},{"x":0.847,"y":0.912},{"x":0.87,"y":0.922},{"x":0.856,"y":0.892},{"x":0.783,"y":0.892},{"x":0.801,"y":0.892},{"x":0.82,"y":0.892},{"x":0.906,"y":0.92},{"x":0.915,"y":0.9},{"x":0.942,"y":0.92},{"x":0.947,"y":0.9},{"x":0.956,"y":0.892},{"x":0.99,"y":0.912},
{"x":0.515,"y":0.857},{"x":0.597,"y":0.872},{"x":0.62,"y":0.872},{"x":0.647,"y":0.872},{"x":0.661,"y":0.872},{"x":0.674,"y":0.872},{"x":0.742,"y":0.872},{"x":0.756,"y":0.872},{"x":0.81,"y":0.872},{"x":0.833,"y":0.872},{"x":0.892,"y":0.872},{"x":0.906,"y":0.857},{"x":0.922,"y":0.862},{"x":0.933,"y":0.857},
{"x":0.638,"y":0.842},{"x":0.65,"y":0.842},{"x":0.656,"y":0.842},{"x":0.783,"y":0.842},
{"x":0.62,"y":0.827},{"x":0.633,"y":0.827},{"x":0.647,"y":0.812},{"x":0.665,"y":0.827},{"x":0.683,"y":0.827},{"x":0.756,"y":0.812},{"x":0.829,"y":0.827},{"x":0.844,"y":0.827},{"x":0.86,"y":0.827},{"x":0.874,"y":0.835},{"x":0.888,"y":0.842},{"x":0.919,"y":0.827},{"x":0.978,"y":0.842},{"x":0.978,"y":0.827},
{"x":0.552,"y":0.797},{"x":0.574,"y":0.812},{"x":0.586,"y":0.797},{"x":0.71,"y":0.797},{"x":0.733,"y":0.797},{"x":0.751,"y":0.797},{"x":0.792,"y":0.797},{"x":0.897,"y":0.797},{"x":0.91,"y":0.797},{"x":0.915,"y":0.785},
{"x":0.532,"y":0.765},{"x":0.552,"y":0.765},{"x":0.565,"y":0.778},{"x":0.583,"y":0.778},{"x":0.622,"y":0.765},{"x":0.647,"y":0.778},{"x":0.674,"y":0.778},{"x":0.697,"y":0.765},{"x":0.75,"y":0.75},{"x":0.817,"y":0.75},{"x":0.85,"y":0.778},{"x":0.87,"y":0.765},{"x":0.978,"y":0.778},
{"x":0.579,"y":0.739},{"x":0.574,"y":0.725},{"x":0.606,"y":0.739},{"x":0.686,"y":0.725},{"x":0.697,"y":0.712},{"x":0.76,"y":0.74},{"x":0.783,"y":0.74},{"x":0.833,"y":0.74},{"x":0.847,"y":0.74},{"x":0.947,"y":0.725},{"x":0.96,"y":0.725},{"x":0.974,"y":0.725},{"x":0.992,"y":0.7},
{"x":0.506,"y":0.712},{"x":0.52,"y":0.712},{"x":0.771,"y":0.712},{"x":0.815,"y":0.712},{"x":0.592,"y":0.7},{"x":0.602,"y":0.685},{"x":0.797,"y":0.685},{"x":0.824,"y":0.685},{"x":0.838,"y":0.685},
{"x":0.524,"y":0.66},{"x":0.552,"y":0.66},{"x":0.565,"y":0.662},{"x":0.577,"y":0.66},{"x":0.579,"y":0.64},{"x":0.633,"y":0.66},{"x":0.647,"y":0.65},{"x":0.674,"y":0.65},{"x":0.747,"y":0.66},{"x":0.81,"y":0.645},{"x":0.874,"y":0.645},{"x":0.915,"y":0.672},{"x":0.929,"y":0.638},
{"x":0.497,"y":0.615},{"x":0.633,"y":0.625},{"x":0.642,"y":0.612},{"x":0.656,"y":0.612},{"x":0.665,"y":0.612},{"x":0.697,"y":0.625},{"x":0.524,"y":0.6},{"x":0.592,"y":0.59},{"x":0.615,"y":0.608},{"x":0.61,"y":0.574},{"x":0.622,"y":0.581},{"x":0.756,"y":0.615},{"x":0.76,"y":0.6},{"x":0.76,"y":0.59},{"x":0.729,"y":0.578},{"x":0.831,"y":0.578},{"x":0.924,"y":0.608},{"x":0.983,"y":0.612},{"x":0.988,"y":0.59},
{"x":0.542,"y":0.562},{"x":0.692,"y":0.567},{"x":0.674,"y":0.55},{"x":0.779,"y":0.554},{"x":0.833,"y":0.549},{"x":0.874,"y":0.561},{"x":0.886,"y":0.567},{"x":0.895,"y":0.554},{"x":0.915,"y":0.567},{"x":0.968,"y":0.561},
{"x":0.52,"y":0.55},{"x":0.533,"y":0.54},{"x":0.559,"y":0.54},{"x":0.574,"y":0.529},{"x":0.588,"y":0.54},{"x":0.62,"y":0.55},{"x":0.622,"y":0.534},{"x":0.647,"y":0.529},{"x":0.706,"y":0.548},{"x":0.701,"y":0.529},{"x":0.724,"y":0.521},{"x":0.751,"y":0.534},{"x":0.76,"y":0.529},{"x":0.771,"y":0.534},{"x":0.779,"y":0.529},{"x":0.91,"y":0.534},
{"x":0.552,"y":0.514},{"x":0.579,"y":0.514},{"x":0.606,"y":0.509},{"x":0.624,"y":0.504},{"x":0.67,"y":0.494},{"x":0.729,"y":0.494},{"x":0.751,"y":0.509},{"x":0.86,"y":0.494},
{"x":0.011,"y":0.481},{"x":0.011,"y":0.461},{"x":0.032,"y":0.494},{"x":0.083,"y":0.469},{"x":0.088,"y":0.461},{"x":0.104,"y":0.454},{"x":0.15,"y":0.454},{"x":0.156,"y":0.487},{"x":0.17,"y":0.494},{"x":0.177,"y":0.487},{"x":0.192,"y":0.474},{"x":0.195,"y":0.461},{"x":0.215,"y":0.494},{"x":0.231,"y":0.439},{"x":0.238,"y":0.427},{"x":0.277,"y":0.474},{"x":0.292,"y":0.481},{"x":0.283,"y":0.427},{"x":0.304,"y":0.411},{"x":0.329,"y":0.481},{"x":0.333,"y":0.461},{"x":0.342,"y":0.469},{"x":0.356,"y":0.454},{"x":0.36,"y":0.461},{"x":0.388,"y":0.481},{"x":0.399,"y":0.481},{"x":0.438,"y":0.487},{"x":0.465,"y":0.454},{"x":0.497,"y":0.439},{"x":0.041,"y":0.441},{"x":0.006,"y":0.421},{"x":0.013,"y":0.407},{"x":0.07,"y":0.417},{"x":0.095,"y":0.421},{"x":0.115,"y":0.399},{"x":0.129,"y":0.409},{"x":0.15,"y":0.417},{"x":0.161,"y":0.421},{"x":0.424,"y":0.427},{"x":0.442,"y":0.421},{"x":0.449,"y":0.407},{"x":0.456,"y":0.394},{"x":0.456,"y":0.379},{"x":0.026,"y":0.381},{"x":0.052,"y":0.381},{"x":0.004,"y":0.361},{"x":0.097,"y":0.371},{"x":0.115,"y":0.371},{"x":0.183,"y":0.389},{"x":0.174,"y":0.369},{"x":0.179,"y":0.357},{"x":0.211,"y":0.369},{"x":0.224,"y":0.371},{"x":0.241,"y":0.394},{"x":0.256,"y":0.381},{"x":0.251,"y":0.357},{"x":0.286,"y":0.381},{"x":0.368,"y":0.391},{"x":0.401,"y":0.374},{"x":0.41,"y":0.391},{"x":0.338,"y":0.364},{"x":0.347,"y":0.371},{"x":0.342,"y":0.349},{"x":0.333,"y":0.339},{"x":0.11,"y":0.349},{"x":0.113,"y":0.337},{"x":0.07,"y":0.341},{"x":0.147,"y":0.344},{"x":0.161,"y":0.337},{"x":0.192,"y":0.341},{"x":0.015,"y":0.327},{"x":0.041,"y":0.311},{"x":0.043,"y":0.309},{"x":0.077,"y":0.314},{"x":0.141,"y":0.324},{"x":0.147,"y":0.331},{"x":0.174,"y":0.331},{"x":0.204,"y":0.319},{"x":0.279,"y":0.327},{"x":0.32,"y":0.331},{"x":0.335,"y":0.309},{"x":0.11,"y":0.299},{"x":0.129,"y":0.299},{"x":0.133,"y":0.287},{"x":0.15,"y":0.277},{"x":0.165,"y":0.277},{"x":0.16,"y":0.261},{"x":0.052,"y":0.271},{"x":0.063,"y":0.264},{"x":0.07,"y":0.259},{"x":0.077,"y":0.261},{"x":0.023,"y":0.259},{"x":0.263,"y":0.279},{"x":0.265,"y":0.281},{"x":0.322,"y":0.284},{"x":0.342,"y":0.289},{"x":0.32,"y":0.267},{"x":0.2,"y":0.261},{"x":0.392,"y":0.299},{"x":0.415,"y":0.294},{"x":0.424,"y":0.304},{"x":0.442,"y":0.299},{"x":0.419,"y":0.284},{"x":0.447,"y":0.274},{"x":0.469,"y":0.301},{"x":0.487,"y":0.294},{"x":0.497,"y":0.284},{"x":0.056,"y":0.244},{"x":0.088,"y":0.244},{"x":0.065,"y":0.227},{"x":0.065,"y":0.206},{"x":0.093,"y":0.2},{"x":0.122,"y":0.237},{"x":0.129,"y":0.219},{"x":0.133,"y":0.2},{"x":0.259,"y":0.244},{"x":0.274,"y":0.237},{"x":0.288,"y":0.237},{"x":0.31,"y":0.244},{"x":0.342,"y":0.248},{"x":0.397,"y":0.249},{"x":0.413,"y":0.257},{"x":0.388,"y":0.229},{"x":0.0,"y":0.2},{"x":0.19,"y":0.206},{"x":0.262,"y":0.2},{"x":0.286,"y":0.208},{"x":0.326,"y":0.198},{"x":0.422,"y":0.208},{"x":0.438,"y":0.198},{"x":0.46,"y":0.203},{"x":0.486,"y":0.216},{"x":0.032,"y":0.163},{"x":0.047,"y":0.163},{"x":0.063,"y":0.146},{"x":0.11,"y":0.168},{"x":0.15,"y":0.17},{"x":0.197,"y":0.16},{"x":0.242,"y":0.158},{"x":0.265,"y":0.173},{"x":0.27,"y":0.168},{"x":0.356,"y":0.153},{"x":0.378,"y":0.143},{"x":0.377,"y":0.128},{"x":0.395,"y":0.178},{"x":0.401,"y":0.168},{"x":0.456,"y":0.178},{"x":0.465,"y":0.168},{"x":0.474,"y":0.178},{"x":0.48,"y":0.158},{"x":0.0,"y":0.136},{"x":0.006,"y":0.116},{"x":0.02,"y":0.13},{"x":0.022,"y":0.128},{"x":0.029,"y":0.106},{"x":0.079,"y":0.12},{"x":0.106,"y":0.12},{"x":0.141,"y":0.14},{"x":0.153,"y":0.126},{"x":0.162,"y":0.126},{"x":0.206,"y":0.118},{"x":0.213,"y":0.13},{"x":0.256,"y":0.103},{"x":0.242,"y":0.096},{"x":0.308,"y":0.136},{"x":0.459,"y":0.103},{"x":0.023,"y":0.078},{"x":0.02,"y":0.058},{"x":0.053,"y":0.083},{"x":0.115,"y":0.088},{"x":0.079,"y":0.053},{"x":0.088,"y":0.036},{"x":0.102,"y":0.028},{"x":0.117,"y":0.063},{"x":0.159,"y":0.09},{"x":0.161,"y":0.066},{"x":0.213,"y":0.066},{"x":0.238,"y":0.098},{"x":0.233,"y":0.083},{"x":0.233,"y":0.066},{"x":0.229,"y":0.05},{"x":0.238,"y":0.036},{"x":0.297,"y":0.088},{"x":0.301,"y":0.078},{"x":0.292,"y":0.068},{"x":0.299,"y":0.06},{"x":0.193,"y":0.048},{"x":0.395,"y":0.08},{"x":0.401,"y":0.05},{"x":0.415,"y":0.046},{"x":0.431,"y":0.053},{"x":0.442,"y":0.05},{"x":0.449,"y":0.04},{"x":0.483,"y":0.053},{"x":0.487,"y":0.02},{"x":0.005,"y":0.028},{"x":0.024,"y":0.033},{"x":0.05,"y":0.033},{"x":0.161,"y":0.018},{"x":0.186,"y":0.02},{"x":0.188,"y":0.008},{"x":0.215,"y":0.008},{"x":0.247,"y":0.01},{"x":0.07,"y":0.013},{"x":0.32,"y":0.033},{"x":0.371,"y":0.006},{"x":0.406,"y":0.013},{"x":0.415,"y":0.013},{"x":0.487,"y":0.003},
{"x":0.544,"y":0.494},{"x":0.583,"y":0.477},{"x":0.61,"y":0.494},{"x":0.67,"y":0.487},{"x":0.724,"y":0.477},{"x":0.729,"y":0.481},{"x":0.506,"y":0.461},{"x":0.502,"y":0.444},{"x":0.524,"y":0.431},{"x":0.547,"y":0.399},{"x":0.561,"y":0.439},{"x":0.59,"y":0.431},{"x":0.633,"y":0.439},{"x":0.656,"y":0.439},{"x":0.688,"y":0.454},{"x":0.683,"y":0.421},{"x":0.715,"y":0.427},{"x":0.726,"y":0.407},{"x":0.774,"y":0.469},{"x":0.774,"y":0.454},{"x":0.856,"y":0.487},{"x":0.851,"y":0.441},{"x":0.88,"y":0.421},{"x":0.888,"y":0.431},{"x":0.856,"y":0.399},{"x":0.801,"y":0.399},{"x":0.803,"y":0.4},{"x":0.88,"y":0.381},{"x":0.954,"y":0.454},{"x":0.942,"y":0.407},{"x":0.938,"y":0.391},{"x":0.924,"y":0.367},{"x":0.951,"y":0.361},{"x":0.956,"y":0.337},{"x":0.986,"y":0.369},{"x":0.493,"y":0.409},{"x":0.52,"y":0.407},{"x":0.535,"y":0.371},{"x":0.67,"y":0.389},{"x":0.659,"y":0.349},{"x":0.679,"y":0.351},{"x":0.695,"y":0.341},{"x":0.706,"y":0.329},{"x":0.738,"y":0.361},{"x":0.747,"y":0.357},{"x":0.77,"y":0.364},{"x":0.779,"y":0.351},{"x":0.79,"y":0.341},{"x":0.62,"y":0.321},{"x":0.615,"y":0.289},{"x":0.493,"y":0.319},{"x":0.511,"y":0.321},{"x":0.497,"y":0.304},{"x":0.488,"y":0.289},{"x":0.542,"y":0.314},{"x":0.545,"y":0.316},{"x":0.559,"y":0.321},{"x":0.538,"y":0.289},{"x":0.552,"y":0.279},{"x":0.565,"y":0.264},{"x":0.57,"y":0.249},{"x":0.556,"y":0.274},{"x":0.515,"y":0.267},{"x":0.711,"y":0.294},{"x":0.724,"y":0.294},{"x":0.751,"y":0.317},{"x":0.777,"y":0.314},{"x":0.765,"y":0.294},{"x":0.795,"y":0.284},{"x":0.799,"y":0.257},{"x":0.686,"y":0.259},{"x":0.699,"y":0.254},{"x":0.715,"y":0.237},{"x":0.722,"y":0.229},{"x":0.735,"y":0.219},{"x":0.65,"y":0.229},{"x":0.661,"y":0.237},{"x":0.665,"y":0.219},{"x":0.602,"y":0.227},{"x":0.632,"y":0.217},{"x":0.497,"y":0.237},{"x":0.52,"y":0.237},{"x":0.533,"y":0.229},{"x":0.506,"y":0.217},{"x":0.52,"y":0.201},{"x":0.577,"y":0.211},{"x":0.552,"y":0.188},{"x":0.613,"y":0.188},{"x":0.624,"y":0.188},{"x":0.661,"y":0.19},{"x":0.768,"y":0.2},{"x":0.792,"y":0.206},{"x":0.842,"y":0.19},{"x":0.892,"y":0.188},{"x":0.915,"y":0.173},{"x":0.938,"y":0.19},{"x":0.908,"y":0.229},{"x":0.974,"y":0.231},{"x":0.978,"y":0.237},{"x":0.995,"y":0.173},{"x":0.515,"y":0.178},{"x":0.583,"y":0.153},{"x":0.595,"y":0.153},{"x":0.568,"y":0.138},{"x":0.65,"y":0.153},{"x":0.665,"y":0.153},{"x":0.679,"y":0.143},{"x":0.686,"y":0.126},{"x":0.688,"y":0.128},{"x":0.692,"y":0.133},{"x":0.722,"y":0.168},{"x":0.733,"y":0.168},{"x":0.731,"y":0.143},{"x":0.879,"y":0.146},{"x":0.899,"y":0.156},{"x":0.815,"y":0.138},{"x":0.826,"y":0.126},{"x":0.847,"y":0.118},{"x":0.853,"y":0.106},{"x":0.871,"y":0.1},{"x":0.529,"y":0.116},{"x":0.57,"y":0.113},{"x":0.577,"y":0.096},{"x":0.633,"y":0.113},{"x":0.641,"y":0.096},{"x":0.674,"y":0.103},{"x":0.744,"y":0.113},{"x":0.786,"y":0.088},{"x":0.804,"y":0.1},{"x":0.813,"y":0.07},{"x":0.826,"y":0.048},{"x":0.86,"y":0.058},{"x":0.992,"y":0.066},{"x":0.511,"y":0.088},{"x":0.532,"y":0.088},{"x":0.524,"y":0.073},{"x":0.561,"y":0.088},{"x":0.565,"y":0.07},{"x":0.497,"y":0.048},{"x":0.493,"y":0.028},{"x":0.538,"y":0.038},{"x":0.606,"y":0.02},{"x":0.629,"y":0.02},{"x":0.704,"y":0.04},{"x":0.701,"y":0.013}
]
},
"hconcat":[
{
"title":{"text":"a","anchor":"start","frame":"bounds","fontSize":22,"fontWeight":"bold","offset":-22,"dx":-5},
"vconcat":[{
"width":402,"height":356,
"title":{"text":"Schizophrenia","offset":11},
"data":{"name":"a"},
"encoding":{
"x":{"field":"x","type":"quantitative","scale":{"domain":[-0.566,14.604],"nice":false,"zero":false},"axis":{"values":[0,2,4,6,8,10,12,14],"title":"rank by uncorrected best p per gene"}},
"y":{"field":"y","type":"quantitative","scale":{"domain":[-0.509,14.594],"nice":false,"zero":false},"axis":{"values":[0,2,4,6,8,10,12,14],"title":"rank by best p method","titleX":-53}}
},
"layer":[
{"mark":{"type":"point","shape":"circle","filled":true,"size":105,"strokeWidth":0,"color":"#000","opacity":0.26}},
{"mark":{"type":"point","shape":"circle","filled":false,"size":30,"strokeWidth":1.3,"color":"#222","opacity":0.8}}
]
}]
},
{
"title":{"text":"b","anchor":"start","frame":"bounds","fontSize":22,"fontWeight":"bold","offset":-30,"dx":0},
"vconcat":[{
"width":396,"height":356,
"title":{"text":"Schizophrenia","offset":11},
"data":{"name":"b"},
"mark":{"type":"point","shape":"circle","filled":false,"size":16,"strokeWidth":1,"color":"#7a7a7a","opacity":0.95},
"encoding":{
"x":{"field":"x","type":"quantitative","scale":{"domain":[-0.0381,1.0409],"nice":false,"zero":false},"axis":{"values":[0,0.2,0.4,0.6,0.8,1.0],"format":".1f","title":"rank by uncorrected best p per gene"}},
"y":{"field":"y","type":"quantitative","scale":{"domain":[-0.0331,1.0376],"nice":false,"zero":false},"axis":{"values":[0,0.2,0.4,0.6,0.8,1.0],"format":".1f","title":"rank by product of p < 0.01 method","titleX":-70}}
}
}]
}
]
}
